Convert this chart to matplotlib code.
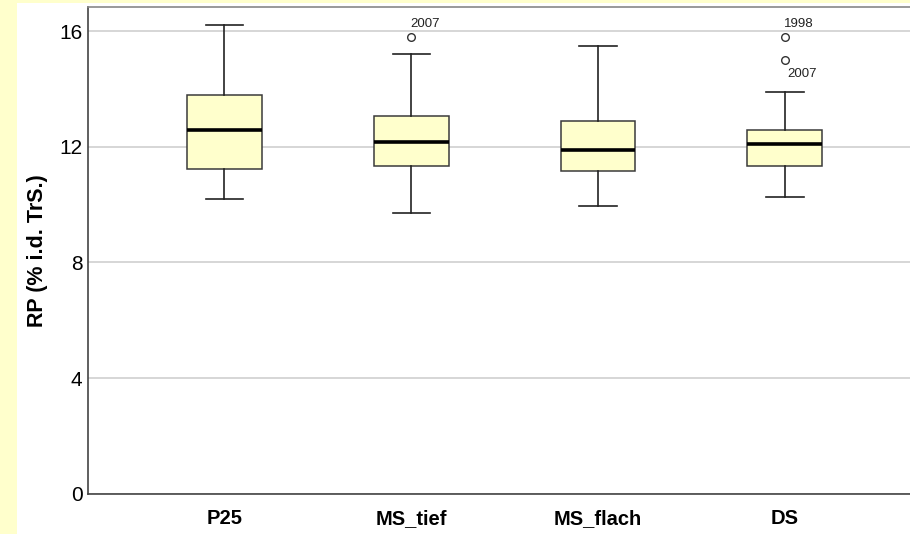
import matplotlib.pyplot as plt
from matplotlib.patches import Rectangle

# Summary values
groups = ['P25', 'MS_tief', 'MS_flach', 'DS']
whislo = [10.2, 9.7, 9.95, 10.25]
q1 = [11.23, 11.34, 11.16, 11.35]
med = [12.59, 12.18, 11.89, 12.09]
q3 = [13.80, 13.08, 12.89, 12.59]
whishi = [16.2, 15.2, 15.49, 13.9]
fliers = [[], [15.79], [], [15.79, 14.99]]
flier_labels = [[], ['2007'], [], ['1998', '2007']]

yticks = [0, 4, 8, 12, 16]

fonts = ['Liberation Sans', 'DejaVu Sans']

fig = plt.figure(figsize=(9.10, 5.34), dpi=100, facecolor='#ffffcc')
# white panel inside the yellow frame
fig.patches.append(Rectangle((17 / 910, 0), 1, 1 - 3 / 534, transform=fig.transFigure,
                             facecolor='white', edgecolor='none', zorder=-10))
ax = fig.add_axes([88 / 910, 40.4 / 534, 1 - 88 / 910, 486.6 / 534])
ax.set_facecolor('white')

stats = []
for i in range(len(groups)):
    stats.append(dict(whislo=whislo[i], q1=q1[i], med=med[i], q3=q3[i],
                      whishi=whishi[i], fliers=fliers[i], label=groups[i]))

ax.bxp(stats, positions=range(len(groups)), widths=0.40, patch_artist=True,
       boxprops=dict(facecolor='#ffffcc', edgecolor='#3a3a3a', linewidth=1.1),
       medianprops=dict(color='black', linewidth=2.6),
       whiskerprops=dict(color='#222222', linewidth=1.2),
       capprops=dict(color='#222222', linewidth=1.2),
       capwidths=0.2,
       flierprops=dict(marker='o', markersize=5.5, markerfacecolor='white',
                       markeredgecolor='#333333', markeredgewidth=1.0))

# outlier year labels
for i in range(len(groups)):
    for j, (v, lab) in enumerate(zip(fliers[i], flier_labels[i])):
        if i == 3 and j == 1:
            ax.text(i + 0.015, v - 0.25, lab, fontsize=9.5, color='#222222',
                    ha='left', va='top', family=fonts)
        else:
            ax.text(i - 0.005, v + 0.25, lab, fontsize=9.5, color='#222222',
                    ha='left', va='bottom', family=fonts)

ax.set_xlim(-0.73, 3.67)
ax.set_ylim(0, 16.84)
ax.set_yticks(yticks)
ax.set_yticklabels([str(t) for t in yticks], fontsize=15, family=fonts)
ax.set_xticks(range(len(groups)))
ax.set_xticklabels(groups, fontsize=14.5, fontweight='bold', family=fonts)
ax.tick_params(axis='x', length=0, pad=11)
ax.tick_params(axis='y', length=0, pad=4)
ax.yaxis.grid(True, color='#d0d0d0', linewidth=1.2)
ax.set_axisbelow(True)

ax.spines['right'].set_visible(False)
ax.spines['top'].set_color('#888888')
ax.spines['left'].set_color('#444444')
ax.spines['bottom'].set_color('#444444')
ax.spines['top'].set_linewidth(1.2)
ax.spines['left'].set_linewidth(1.2)
ax.spines['bottom'].set_linewidth(1.2)

ax.set_ylabel('RP (% i.d. TrS.)', fontsize=15.5, fontweight='bold', family=fonts,
              va='center')
ax.yaxis.set_label_coords(-0.062, 0.5)

plt.savefig('out.png', dpi=100, facecolor=fig.get_facecolor())
